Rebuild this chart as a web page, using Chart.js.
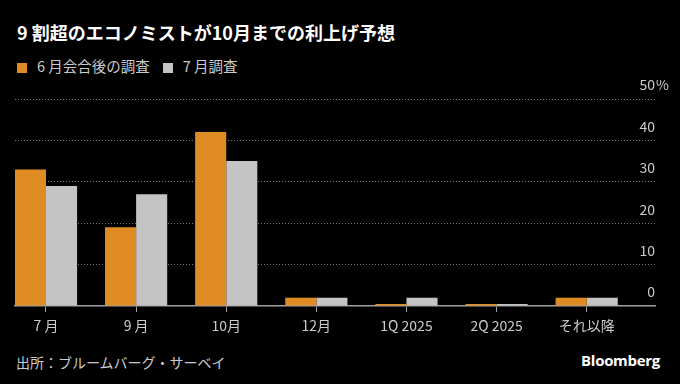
<!DOCTYPE html>
<html>
<head>
<meta charset="utf-8">
<script src="https://cdn.jsdelivr.net/npm/chart.js@4.4.1/dist/chart.umd.min.js"></script>
<style>
    body { margin: 0; background: #000; width: 680px; height: 384px; overflow: hidden; position: relative; font-family: "Noto Sans CJK JP", "Noto Sans", sans-serif; }
    .title { position: absolute; left: 17px; top: 19px; font-size: 18px; font-weight: bold; color: #fff; line-height: 26px; white-space: nowrap; }
    .legend { position: absolute; left: 17px; top: 56px; font-size: 14.5px; color: #ccc; line-height: 20px; white-space: nowrap; }
    .legend span.item { display: inline-block; margin-right: 13px; }
    .legend i { display: inline-block; width: 10px; height: 10px; margin-right: 10px; vertical-align: -1px; }
    .chart-box { position: absolute; left: 0; top: 80px; width: 680px; height: 270px; }
    .source { position: absolute; left: 16px; top: 352px; font-size: 14px; color: #ccc; line-height: 20px; }
    .brand { position: absolute; right: 20px; top: 350px; font-size: 15px; font-weight: bold; color: #fff; line-height: 20px; font-family: "Open Sans", sans-serif; letter-spacing: -0.3px; }
</style>
</head>
<body>
<div class="title">9 割超のエコノミストが10月までの利上げ予想</div>
<div class="legend" id="legend"></div>
<div class="chart-box"><canvas id="barChart"></canvas></div>
<div class="source">出所：ブルームバーグ・サーベイ</div>
<div class="brand">Bloomberg</div>
<script>
    const categories = ['7 月', '9 月', '10月', '12月', '1Q 2025', '2Q 2025', 'それ以降'];
    const seriesNames = ['6 月会合後の調査', '7 月調査'];
    const juneSurvey = [33, 19, 42, 2, 0, 0, 2];
    const julySurvey = [29, 27, 35, 2, 2, 0, 2];
    const yTicks = [0, 10, 20, 30, 40, 50];

    const colors = {
        orange: '#e08c24',
        gray: '#c4c4c4',
        text: '#cccccc',
        grid: '#777777',
        axis: '#a0a0a0'
    };

    document.getElementById('legend').innerHTML =
        `<span class="item"><i style="background:${colors.orange}"></i>${seriesNames[0]}</span>` +
        `<span class="item"><i style="background:${colors.gray}"></i>${seriesNames[1]}</span>`;

    // "%" sits after the top tick label only
    const percentSign = {
        id: 'percentSign',
        afterDraw(chart) {
            const y = chart.scales.y;
            const ctx = chart.ctx;
            const top = yTicks[yTicks.length - 1];
            ctx.save();
            ctx.font = '14px "Noto Sans CJK JP", sans-serif';
            ctx.fillStyle = colors.text;
            ctx.textAlign = 'left';
            ctx.textBaseline = 'middle';
            ctx.fillText('%', chart.chartArea.right + 1, y.getPixelForValue(top) - 14);
            ctx.restore();
        }
    };

    const ctx = document.getElementById('barChart').getContext('2d');
    new Chart(ctx, {
        type: 'bar',
        data: {
            datasets: [
                { label: seriesNames[0], data: juneSurvey.map((v, i) => ({ x: i, y: v })), backgroundColor: colors.orange },
                { label: seriesNames[1], data: julySurvey.map((v, i) => ({ x: i, y: v })), backgroundColor: colors.gray }
            ]
        },
        options: {
            responsive: true,
            maintainAspectRatio: false,
            animation: false,
            layout: { padding: { left: 15, right: 25, top: 19, bottom: 0 } },
            datasets: { bar: { categoryPercentage: 0.69, barPercentage: 1, minBarLength: 2 } },
            plugins: { legend: { display: false }, tooltip: { enabled: false } },
            scales: {
                x: {
                    type: 'linear',
                    min: -0.344,
                    max: 6.758,
                    offset: false,
                    afterFit: s => { s.height = 44; },
                    grid: { offset: false, drawOnChartArea: false, drawTicks: true, tickLength: 6, color: colors.axis },
                    border: { display: true, color: colors.axis, width: 1.5 },
                    ticks: {
                        stepSize: 1,
                        includeBounds: false,
                        autoSkip: false,
                        maxRotation: 0,
                        padding: 5,
                        color: colors.text,
                        font: { size: 14, family: '"Noto Sans CJK JP", sans-serif' },
                        callback: v => categories[v]
                    }
                },
                y: {
                    position: 'right',
                    min: yTicks[0],
                    max: yTicks[yTicks.length - 1],
                    afterFit: s => { s.width = 0; },
                    afterBuildTicks: s => { s.ticks = yTicks.map(v => ({ value: v })); },
                    grid: {
                        drawTicks: false,
                        color: c => c.tick && c.tick.value === 0 ? 'transparent' : colors.grid,
                        lineWidth: 1
                    },
                    border: { display: false, dash: [1, 2] },
                    ticks: {
                        mirror: true,
                        padding: 0,
                        labelOffset: -14,
                        color: colors.text,
                        font: { size: 14, family: '"Noto Sans CJK JP", sans-serif' }
                    }
                }
            }
        },
        plugins: [percentSign]
    });
</script>
</body>
</html>
